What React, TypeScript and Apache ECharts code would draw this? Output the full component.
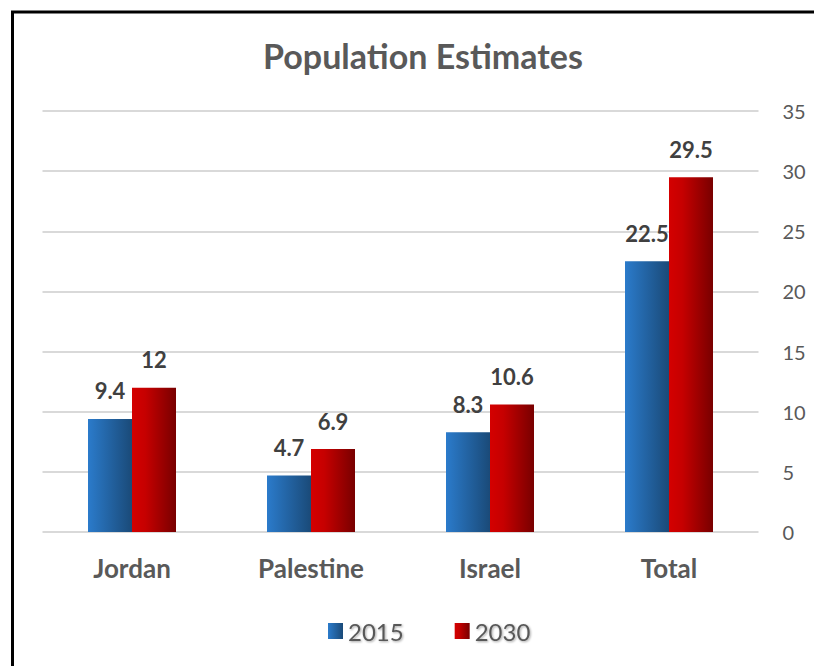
import React, { useEffect, useRef } from "react";
import * as echarts from "echarts";

const categories = ["Jordan", "Palestine", "Israel", "Total"];
const values2015 = [9.4, 4.7, 8.3, 22.5];
const values2030 = [12, 6.9, 10.6, 29.5];
const seriesNames = ["2015", "2030"];

const FONT = "Lato, 'Open Sans', sans-serif";

export default function App() {
  const ref = useRef<HTMLDivElement>(null);
  useEffect(() => {
    if (!ref.current) return;
    const chart = echarts.init(ref.current, null, { renderer: "svg" });
    const blue = new echarts.graphic.LinearGradient(0, 0, 1, 0, [
      { offset: 0, color: "#2b7bcb" },
      { offset: 1, color: "#1a4a78" },
    ]);
    const red = new echarts.graphic.LinearGradient(0, 0, 1, 0, [
      { offset: 0, color: "#d40000" },
      { offset: 0.3, color: "#c60000" },
      { offset: 1, color: "#780000" },
    ]);
    const labelStyle = {
      show: true,
      position: "top" as const,
      distance: 17,
      fontFamily: FONT,
      fontWeight: "bold" as const,
      fontSize: 22,
      color: "#404040",
    };
    chart.setOption({
      animation: false,
      backgroundColor: "#ffffff",
      title: {
        text: "Population Estimates",
        left: 418,
        textAlign: "center",
        top: 33,
        textStyle: {
          fontFamily: FONT,
          fontWeight: "bold",
          fontSize: 34,
          color: "#595959",
        },
      },
      graphic: [
        {
          type: "rect",
          shape: { x: 12.5, y: 12, width: 900, height: 800 },
          style: { fill: "none", stroke: "#000000", lineWidth: 3 },
          silent: true,
        },
      ],
      legend: {
        data: seriesNames,
        left: 323,
        top: 614,
        icon: "rect",
        itemWidth: 15,
        itemHeight: 16,
        itemGap: 51,
        textStyle: {
          fontFamily: FONT,
          fontSize: 24,
          color: "#595959",
          textShadowColor: "rgba(0,0,0,0.35)",
          textShadowBlur: 2,
          textShadowOffsetX: 1,
          textShadowOffsetY: 1,
        },
      },
      grid: { left: 42.5, right: 55.5, top: 111, bottom: 134, containLabel: false },
      xAxis: {
        type: "category",
        data: categories,
        axisLine: { show: false },
        axisTick: { show: false },
        axisLabel: {
          margin: 23,
          fontFamily: FONT,
          fontWeight: "bold",
          fontSize: 26,
          color: "#595959",
        },
      },
      yAxis: {
        type: "value",
        position: "right",
        min: 0,
        max: 35,
        interval: 5,
        axisLine: { show: false },
        axisTick: { show: false },
        axisLabel: {
          margin: 24,
          fontFamily: FONT,
          fontSize: 20,
          color: "#595959",
        },
        splitLine: { lineStyle: { color: "#d9d9d9", width: 2 } },
      },
      series: [
        {
          name: seriesNames[0],
          type: "bar",
          data: values2015,
          barWidth: 44,
          barGap: "0%",
          itemStyle: { color: blue },
          label: labelStyle,
        },
        {
          name: seriesNames[1],
          type: "bar",
          data: values2030,
          barWidth: 44,
          barGap: "0%",
          itemStyle: { color: red },
          label: labelStyle,
        },
      ],
    });
    return () => chart.dispose();
  }, []);
  return (
    <div
      ref={ref}
      style={{ position: "fixed", left: 0, top: 0, width: 814, height: 666 }}
    />
  );
}
